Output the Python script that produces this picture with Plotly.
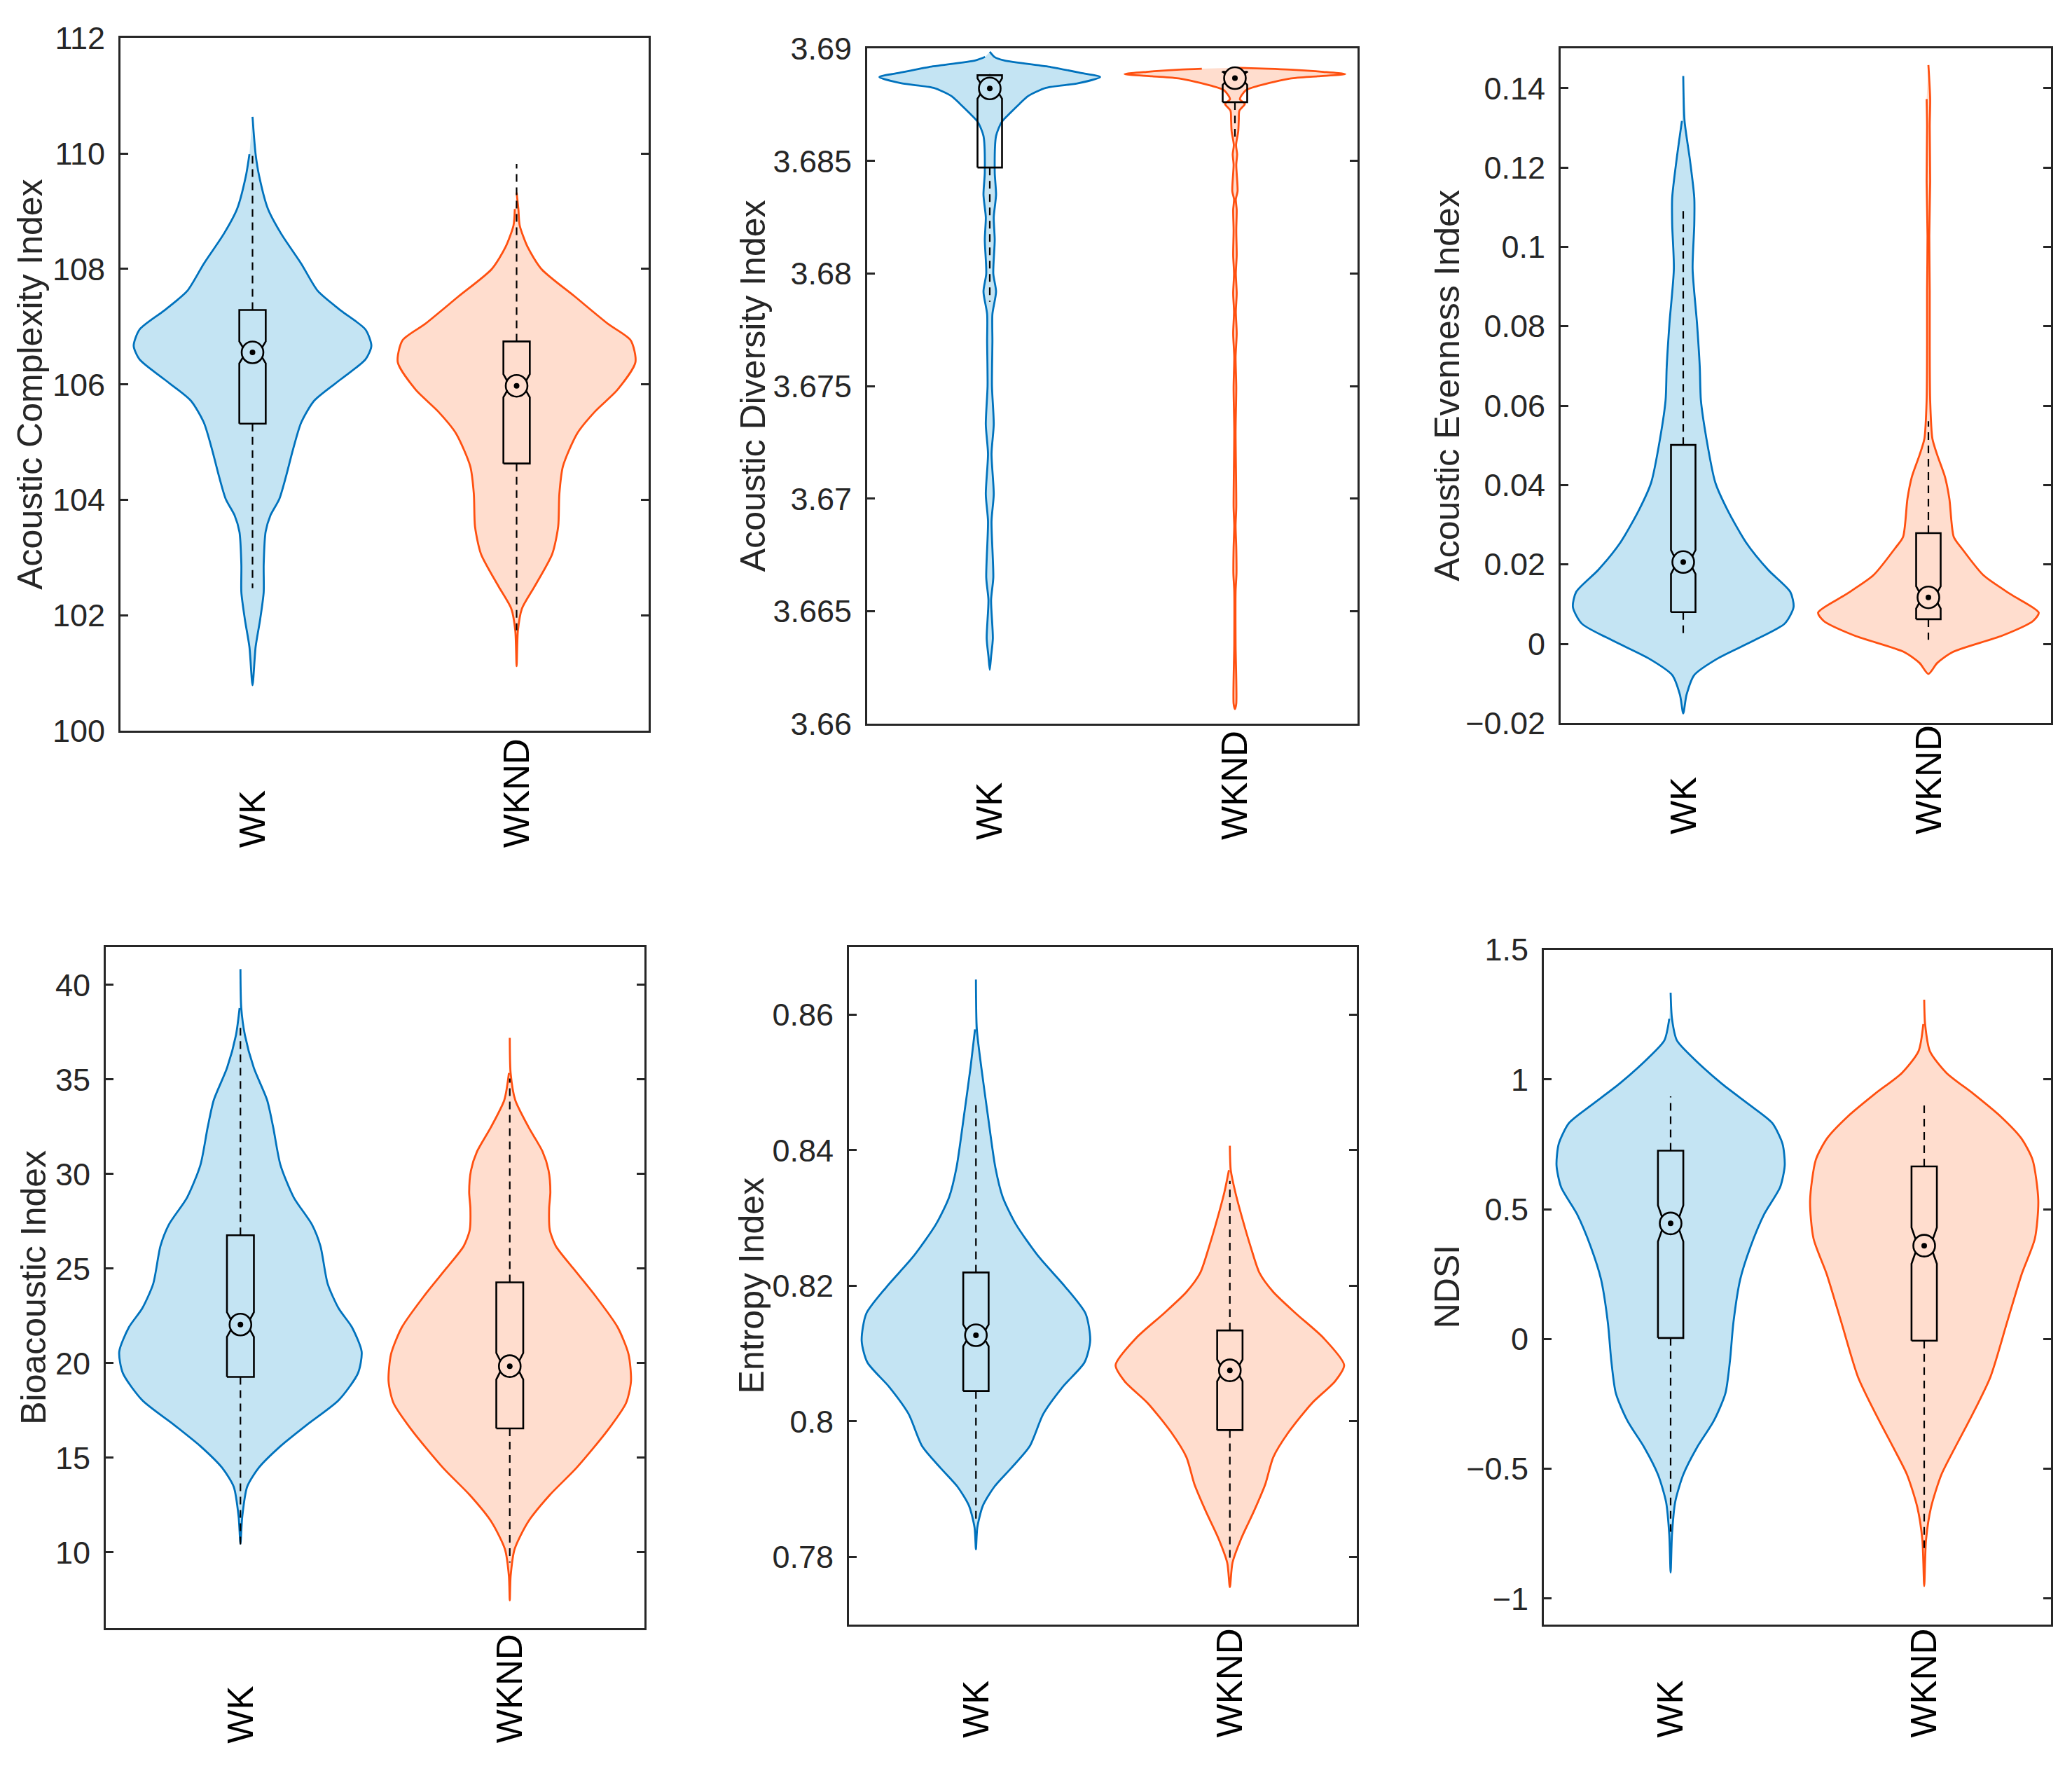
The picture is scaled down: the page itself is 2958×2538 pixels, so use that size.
"""Weekday vs weekend acoustic indices: six violin panels with notched boxes."""

import plotly.graph_objects as go

GROUPS = ["WK", "WKND"]
LINE_COLORS = ["#0072BD", "#FF5010"]
FILL_COLORS = ["rgb(196,228,243)", "rgb(255,221,206)"]

# ---- Acoustic Complexity Index ----
ACI_WK_Y = [110.634, 109.989, 109.610, 109.040, 108.614, 108.092, 107.618, 107.286,
            106.953, 106.669, 106.432, 106.100, 105.721, 105.341, 104.867, 104.393,
            104.013, 103.728, 103.444, 102.875, 102.400, 101.926, 101.452, 100.788]
ACI_WK_W = [0, 0.026, 0.056, 0.13, 0.24, 0.41, 0.55, 0.74, 0.95, 1.0, 0.95, 0.75,
            0.52, 0.41, 0.34, 0.28, 0.225, 0.15, 0.11, 0.094, 0.094, 0.064, 0.026, 0]
ACI_WKND_Y = [109.325, 109.040, 108.756, 108.376, 107.997, 107.523, 107.048, 106.764,
              106.384, 105.910, 105.531, 105.151, 104.582, 104.108, 103.539, 103.064,
              102.495, 102.116, 101.736, 101.120]
ACI_WKND_W = [0, 0.015, 0.026, 0.094, 0.21, 0.49, 0.77, 0.96, 1.0, 0.85, 0.66, 0.51,
              0.39, 0.36, 0.35, 0.30, 0.15, 0.045, 0.011, 0]
# lower whisker, q1, median, q3, upper whisker
ACI_WK_BOX = [102.47, 105.32, 106.555, 107.29, 109.99]
ACI_WKND_BOX = [101.74, 104.63, 105.976, 106.745, 109.82]
ACI_NOTCH = [0.19, 0.20]
ACI_TICKS = [100, 102, 104, 106, 108, 110, 112]
ACI_TICKTEXT = ["100", "102", "104", "106", "108", "110", "112"]

# ---- Acoustic Diversity Index ----
ADI_WK_Y = [3.68985, 3.68962, 3.68947, 3.68917, 3.68891, 3.68873, 3.68845, 3.68825,
            3.68789, 3.68754, 3.68713, 3.68673, 3.68611, 3.68450, 3.68350, 3.68250,
            3.68150, 3.68000, 3.67920, 3.67820, 3.67700, 3.67500, 3.67330, 3.67200,
            3.67020, 3.66900, 3.66650, 3.66550, 3.66380, 3.66300, 3.66240]
ADI_WK_W = [0, 0.043, 0.128, 0.556, 0.826, 1.0, 0.80, 0.51, 0.35, 0.27, 0.185, 0.108,
            0.057, 0.045, 0.057, 0.036, 0.045, 0.032, 0.057, 0.024, 0.024, 0.02, 0.036,
            0.016, 0.036, 0.016, 0.032, 0.012, 0.028, 0.012, 0]
ADI_WKND_Y = [3.68914, 3.68910, 3.68906, 3.68896, 3.68886, 3.68876, 3.68866, 3.68835,
              3.68815, 3.68774, 3.68754, 3.68723, 3.68683, 3.68632, 3.68571, 3.68530,
              3.68483, 3.68366, 3.68330, 3.68283, 3.68191, 3.68082, 3.68000, 3.67912,
              3.67830, 3.67734, 3.67630, 3.67494, 3.67300, 3.66964, 3.66880, 3.66782,
              3.66668, 3.66590, 3.66350, 3.66090, 3.66066]
ADI_WKND_W = [0, 0.3, 0.5, 0.8, 1.0, 0.75, 0.5, 0.22, 0.10, 0.045, 0.09, 0.04, 0.035,
              0.03, 0.01, 0.02, 0.012, 0.024, 0.008, 0.016, 0.012, 0.016, 0.008, 0.016,
              0.008, 0.016, 0.006, 0.012, 0.006, 0.012, 0.006, 0.012, 0.014, 0.006,
              0.006, 0.012, 0]
ADI_WK_BOX = [3.67875, 3.68471, 3.68822, 3.68881, 3.68886]
ADI_WKND_BOX = [3.68591, 3.68761, 3.68868, 3.68896, 3.68910]
ADI_NOTCH = [0.00045, 0.0003]
ADI_TICKS = [3.66, 3.665, 3.67, 3.675, 3.68, 3.685, 3.69]
ADI_TICKTEXT = ["3.66", "3.665", "3.67", "3.675", "3.68", "3.685", "3.69"]

# ---- Acoustic Evenness Index ----
AEI_WK_Y = [0.14303, 0.13172, 0.12207, 0.11241, 0.10552, 0.09448, 0.08069, 0.06966,
            0.06138, 0.05172, 0.04069, 0.03379, 0.02552, 0.01862, 0.01310, 0.00924,
            0.00510, 0.00069, -0.00372, -0.00786, -0.01283, -0.01752]
AEI_WK_W = [0, 0.012, 0.06, 0.10, 0.10, 0.085, 0.125, 0.15, 0.16, 0.21, 0.29, 0.40,
            0.57, 0.77, 0.97, 1.0, 0.92, 0.63, 0.31, 0.10, 0.03, 0]
AEI_WKND_Y = [0.14579, 0.13724, 0.13034, 0.11655, 0.10276, 0.08897, 0.07517, 0.06138,
              0.05172, 0.04759, 0.04207, 0.03655, 0.02690, 0.02414, 0.01724, 0.01241,
              0.00786, 0.00579, 0.00207, -0.00207, -0.00483, -0.00759]
AEI_WKND_W = [0, 0.016, 0.012, 0.016, 0.008, 0.012, 0.012, 0.016, 0.036, 0.08, 0.15,
              0.19, 0.23, 0.30, 0.50, 0.75, 1.0, 0.95, 0.67, 0.22, 0.08, 0]
AEI_WK_BOX = [0.0017, 0.0080, 0.0206, 0.0501, 0.1103]
AEI_WKND_BOX = [0.0010, 0.0062, 0.0117, 0.0279, 0.0561]
AEI_NOTCH = [0.003, 0.0028]
AEI_TICKS = [-0.02, 0, 0.02, 0.04, 0.06, 0.08, 0.1, 0.12, 0.14]
AEI_TICKTEXT = ["\u22120.02", "0", "0.02", "0.04", "0.06", "0.08", "0.1", "0.12", "0.14"]

# ---- Bioacoustic Index ----
BI_WK_Y = [40.83, 38.77, 37.34, 35.62, 33.91, 32.48, 30.48, 28.76, 27.33, 26.19, 24.19,
           22.90, 21.90, 20.61, 19.47, 18.04, 16.75, 15.61, 14.46, 13.46, 11.89, 10.46]
BI_WK_W = [0, 0.007, 0.037, 0.11, 0.22, 0.27, 0.33, 0.44, 0.59, 0.66, 0.72, 0.81, 0.92,
           1.0, 0.97, 0.81, 0.55, 0.33, 0.15, 0.055, 0.015, 0]
BI_WKND_Y = [37.20, 35.34, 33.91, 32.48, 31.19, 30.19, 29.05, 28.19, 27.05, 26.19, 25.04,
             23.61, 21.90, 20.47, 19.04, 17.90, 16.47, 14.46, 13.03, 11.60, 10.17, 8.74,
             7.46]
BI_WKND_W = [0, 0.007, 0.045, 0.155, 0.27, 0.32, 0.335, 0.325, 0.33, 0.38, 0.52, 0.70,
             0.89, 0.98, 1.0, 0.96, 0.81, 0.55, 0.33, 0.15, 0.04, 0.007, 0]
BI_WK_BOX = [10.17, 19.27, 22.04, 26.76, 37.91]
BI_WKND_BOX = [9.46, 16.55, 19.84, 24.27, 35.05]
BI_NOTCH = [0.65, 0.70]
BI_TICKS = [10, 15, 20, 25, 30, 35, 40]
BI_TICKTEXT = ["10", "15", "20", "25", "30", "35", "40"]

# ---- Entropy Index ----
H_WK_Y = [0.86519, 0.85784, 0.85225, 0.84506, 0.83746, 0.83307, 0.82907, 0.82428,
          0.81988, 0.81588, 0.81189, 0.80869, 0.80509, 0.80110, 0.79630, 0.79311,
          0.79031, 0.78751, 0.78431, 0.78112]
H_WK_W = [0, 0.008, 0.047, 0.105, 0.17, 0.235, 0.35, 0.55, 0.78, 0.96, 1.0, 0.95, 0.76,
          0.59, 0.47, 0.31, 0.16, 0.06, 0.012, 0]
H_WKND_Y = [0.84066, 0.83706, 0.83387, 0.82987, 0.82587, 0.82188, 0.81908, 0.81588,
            0.81229, 0.80829, 0.80589, 0.80270, 0.79830, 0.79470, 0.79071, 0.78671,
            0.78272, 0.77912, 0.77552]
H_WKND_W = [0, 0.008, 0.047, 0.11, 0.18, 0.26, 0.38, 0.58, 0.82, 1.0, 0.92, 0.72, 0.51,
            0.38, 0.31, 0.21, 0.10, 0.023, 0]
H_WK_BOX = [0.78511, 0.80446, 0.81269, 0.82196, 0.84681]
H_WKND_BOX = [0.77952, 0.79870, 0.80751, 0.81341, 0.83546]
H_NOTCH = [0.0016, 0.0016]
H_TICKS = [0.78, 0.80, 0.82, 0.84, 0.86]
H_TICKTEXT = ["0.78", "0.8", "0.82", "0.84", "0.86"]

# ---- NDSI ----
NDSI_WK_Y = [1.3347, 1.2343, 1.1506, 1.0837, 0.9833, 0.8996, 0.8326, 0.7531, 0.6695,
             0.5858, 0.4812, 0.3556, 0.2301, 0.0628, -0.0837, -0.2092, -0.3138, -0.4184,
             -0.5230, -0.6276, -0.7531, -0.8996]
NDSI_WK_W = [0, 0.012, 0.055, 0.195, 0.45, 0.70, 0.89, 0.98, 1.0, 0.96, 0.82, 0.70,
             0.61, 0.55, 0.52, 0.48, 0.38, 0.23, 0.11, 0.04, 0.012, 0]
NDSI_WKND_Y = [1.3075, 1.2134, 1.1088, 1.0251, 0.9456, 0.8577, 0.7741, 0.6904, 0.5335,
               0.3870, 0.2510, 0.0628, -0.1464, -0.2929, -0.4184, -0.5230, -0.6485,
               -0.7741, -0.9519]
NDSI_WKND_W = [0, 0.008, 0.05, 0.196, 0.43, 0.67, 0.85, 0.95, 1.0, 0.97, 0.855, 0.725,
               0.58, 0.42, 0.27, 0.15, 0.06, 0.016, 0]
NDSI_WK_BOX = [-0.7427, 0.0042, 0.4456, 0.7259, 0.9351]
NDSI_WKND_BOX = [-0.8054, -0.0063, 0.3598, 0.6653, 0.9100]
NDSI_NOTCH = [0.07, 0.07]
NDSI_TICKS = [-1, -0.5, 0, 0.5, 1, 1.5]
NDSI_TICKTEXT = ["\u22121", "\u22120.5", "0", "0.5", "1", "1.5"]

PANELS = [
    dict(title="Acoustic Complexity Index", yrange=[100, 112],
         ticks=ACI_TICKS, ticktext=ACI_TICKTEXT,
         groups=[(ACI_WK_Y, ACI_WK_W, ACI_WK_BOX, ACI_NOTCH[0]),
                 (ACI_WKND_Y, ACI_WKND_W, ACI_WKND_BOX, ACI_NOTCH[1])]),
    dict(title="Acoustic Diversity Index", yrange=[3.66, 3.69],
         ticks=ADI_TICKS, ticktext=ADI_TICKTEXT,
         groups=[(ADI_WK_Y, ADI_WK_W, ADI_WK_BOX, ADI_NOTCH[0]),
                 (ADI_WKND_Y, ADI_WKND_W, ADI_WKND_BOX, ADI_NOTCH[1])]),
    dict(title="Acoustic Evenness Index", yrange=[-0.02, 0.15],
         ticks=AEI_TICKS, ticktext=AEI_TICKTEXT,
         groups=[(AEI_WK_Y, AEI_WK_W, AEI_WK_BOX, AEI_NOTCH[0]),
                 (AEI_WKND_Y, AEI_WKND_W, AEI_WKND_BOX, AEI_NOTCH[1])]),
    dict(title="Bioacoustic Index", yrange=[6, 42],
         ticks=BI_TICKS, ticktext=BI_TICKTEXT,
         groups=[(BI_WK_Y, BI_WK_W, BI_WK_BOX, BI_NOTCH[0]),
                 (BI_WKND_Y, BI_WKND_W, BI_WKND_BOX, BI_NOTCH[1])]),
    dict(title="Entropy Index", yrange=[0.77, 0.87],
         ticks=H_TICKS, ticktext=H_TICKTEXT,
         groups=[(H_WK_Y, H_WK_W, H_WK_BOX, H_NOTCH[0]),
                 (H_WKND_Y, H_WKND_W, H_WKND_BOX, H_NOTCH[1])]),
    dict(title="NDSI", yrange=[-1.1, 1.5],
         ticks=NDSI_TICKS, ticktext=NDSI_TICKTEXT,
         groups=[(NDSI_WK_Y, NDSI_WK_W, NDSI_WK_BOX, NDSI_NOTCH[0]),
                 (NDSI_WKND_Y, NDSI_WKND_W, NDSI_WKND_BOX, NDSI_NOTCH[1])]),
]

# page geometry, in pixels of the 2958x2538 page
FIG_W, FIG_H = 2958, 2538
AXES_PX = [  # left, right, top, bottom
    (172, 926, 30, 1039),
    (1238, 1938, 45, 1029),
    (2228, 2928, 45, 1028),
    (151, 920, 1354, 2346),
    (1212, 1937, 1354, 2341),
    (2204, 2928, 1358, 2341),
]
YTITLE_X_PX = [43, 1075, 2066, 48, 1073, 2066]
XLABEL_BOTTOM_PX = [1212, 1200, 1192, 2516, 2508, 2508]

HALF_WIDTH = 0.45   # violin half-width at peak density, in category units
BOX_HALF = 0.05
AX_COLOR = "#262626"
FONT = "Liberation Sans, Arial, Helvetica, sans-serif"


def violin_path(center, ys, ws):
    xs = [center + HALF_WIDTH * w for w in ws]
    yy = list(ys)
    inner = list(range(1, len(ws) - 1))[::-1]
    xs += [center - HALF_WIDTH * ws[k] for k in inner]
    yy += [ys[k] for k in inner]
    return xs, yy


fig = go.Figure()
annotations = []

for i, panel in enumerate(PANELS):
    n = "" if i == 0 else str(i + 1)
    xa, ya = "x" + n, "y" + n
    for g, (ys, ws, stats, notch) in enumerate(panel["groups"]):
        c = g + 1
        vx, vy = violin_path(c, ys, ws)
        fig.add_trace(go.Scatter(
            x=vx, y=vy, mode="lines", fill="toself",
            fillcolor=FILL_COLORS[g],
            line=dict(color=LINE_COLORS[g], width=2.8, shape="spline", smoothing=0.7),
            xaxis=xa, yaxis=ya, hoverinfo="skip", showlegend=False,
        ))
        lo, q1, med, q3, hi = stats
        fig.add_trace(go.Scatter(
            x=[c, c, None, c, c], y=[q3, hi, None, q1, lo], mode="lines",
            line=dict(color="black", width=2.2, dash="11px,8px"),
            xaxis=xa, yaxis=ya, hoverinfo="skip", showlegend=False,
        ))
        b, nb = BOX_HALF, BOX_HALF / 2
        fig.add_trace(go.Scatter(
            x=[c - b, c + b, c + b, c + nb, c + b, c + b, c - b, c - b, c - nb, c - b, c - b],
            y=[q1, q1, med - notch, med, med + notch, q3, q3, med + notch, med, med - notch, q1],
            mode="lines", line=dict(color="black", width=2.6),
            xaxis=xa, yaxis=ya, hoverinfo="skip", showlegend=False,
        ))
        fig.add_trace(go.Scatter(
            x=[c], y=[med], mode="markers",
            marker=dict(symbol="circle", size=31, color=FILL_COLORS[g],
                        line=dict(color="black", width=2.6)),
            xaxis=xa, yaxis=ya, hoverinfo="skip", showlegend=False,
        ))
        fig.add_trace(go.Scatter(
            x=[c], y=[med], mode="markers",
            marker=dict(symbol="circle", size=8, color="black"),
            xaxis=xa, yaxis=ya, hoverinfo="skip", showlegend=False,
        ))
        annotations.append(dict(
            text=GROUPS[g], xref=xa, yref="paper", x=c,
            y=1 - XLABEL_BOTTOM_PX[i] / FIG_H, xanchor="center", yanchor="bottom",
            textangle=-90, showarrow=False,
            font=dict(family=FONT, size=51, color="black"),
        ))

    left, right, top, bottom = AXES_PX[i]
    ydom = [1 - bottom / FIG_H, 1 - top / FIG_H]
    fig.update_layout(**{
        "xaxis" + n: dict(
            domain=[left / FIG_W, right / FIG_W], range=[0.5, 2.5], anchor=ya,
            showline=True, mirror=True, linecolor=AX_COLOR, linewidth=2.7,
            showticklabels=False, ticks="", showgrid=False, zeroline=False,
        ),
        "yaxis" + n: dict(
            domain=ydom, range=panel["yrange"], anchor=xa,
            tickmode="array", tickvals=panel["ticks"], ticktext=panel["ticktext"],
            ticks="inside", ticklen=11, tickwidth=2.5, tickcolor=AX_COLOR,
            showline=True, mirror="ticks", linecolor=AX_COLOR, linewidth=2.7,
            showgrid=False, zeroline=False, ticklabelstandoff=10,
            tickfont=dict(family=FONT, size=45, color=AX_COLOR),
        ),
    })
    annotations.append(dict(
        text=panel["title"], xref="paper", yref="paper",
        x=YTITLE_X_PX[i] / FIG_W, y=(ydom[0] + ydom[1]) / 2,
        xanchor="center", yanchor="middle", textangle=-90, showarrow=False,
        font=dict(family=FONT, size=50, color=AX_COLOR),
    ))

fig.update_layout(
    width=FIG_W, height=FIG_H,
    margin=dict(l=0, r=0, t=0, b=0),
    paper_bgcolor="white", plot_bgcolor="white",
    showlegend=False, annotations=annotations,
)

fig.write_html("out.html", config={"displayModeBar": False},
               post_script="document.body.style.margin='0';")
